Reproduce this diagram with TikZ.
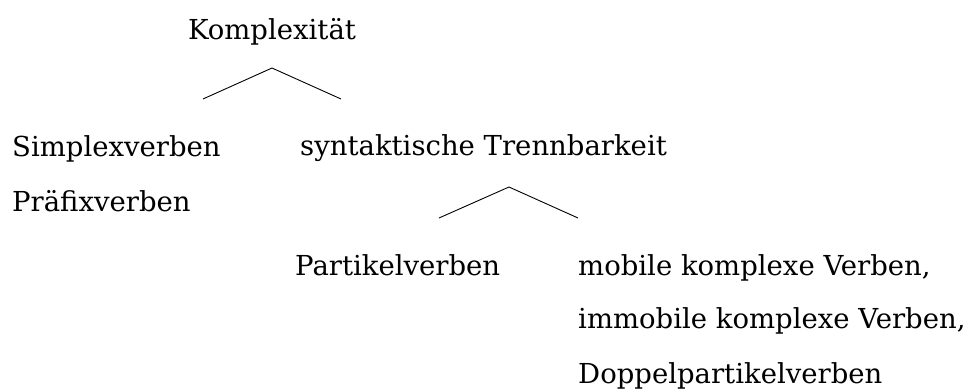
\documentclass[tikz,border=0pt]{standalone}
\usepackage{fontspec}
\setmainfont{DejaVu Serif}
\begin{document}
\begin{tikzpicture}[x=1pt,y=1pt,
  label/.style={inner sep=0pt, anchor=base west, font=\fontsize{27.5}{33}\selectfont},
  branch/.style={line width=0.9pt}]
\useasboundingbox (0,0) rectangle (977,389);
% root
\node[label, anchor=base] (root) at (272,349) {Komplexität};
\coordinate (r-top) at (272,321);
\coordinate (r-left) at (203,290);
\coordinate (r-right) at (341,290);
\draw[branch] (r-left) -- (r-top) -- (r-right);
% first level
\node[label] (simplex) at (12,233) {Simplexverben};
\node[label] (praefix) at (12,178) {Präfixverben};
\node[label] (trenn) at (300,234) {syntaktische Trennbarkeit};
\coordinate (t-top) at (509,202);
\coordinate (t-left) at (439,171);
\coordinate (t-right) at (578,171);
\draw[branch] (t-left) -- (t-top) -- (t-right);
% second level
\node[label] (partikel) at (295,114) {Partikelverben};
\node[label] (mobil) at (578,114) {mobile komplexe Verben,};
\node[label] (immobil) at (578,61) {immobile komplexe Verben,};
\node[label] (doppel) at (578,6) {Doppelpartikelverben};
\end{tikzpicture}
\end{document}
